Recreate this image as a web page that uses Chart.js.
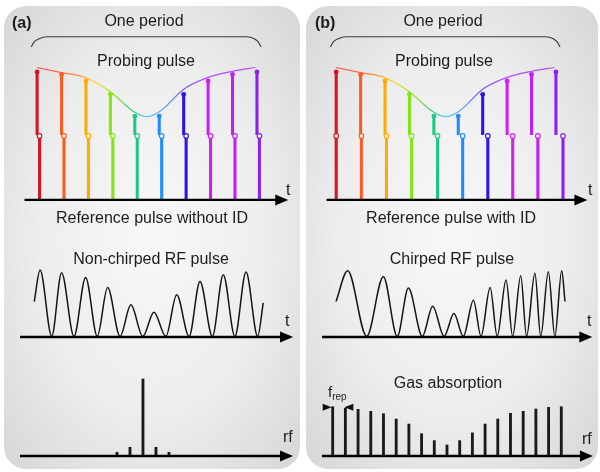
<!DOCTYPE html>
<html>
<head>
<meta charset="utf-8">
<script src="https://cdn.jsdelivr.net/npm/chart.js@4.4.1/dist/chart.umd.min.js"></script>
<style>
body{margin:0;width:600px;height:472px;background:#fff;position:relative;overflow:hidden;font-family:"Liberation Sans",Arial,sans-serif;color:#1c1c1c}
.panel{position:absolute;top:6px;height:463px;border-radius:22px;background:radial-gradient(ellipse farthest-corner at 50% 50%,#f8f8f8 0%,#ededed 55%,#d6d6d6 100%)}
canvas{position:absolute}
.lbl{position:absolute;font-size:16px;line-height:16px;white-space:nowrap}
.c{transform:translateX(-50%)}
.b{font-weight:bold}
sub{font-size:10px;vertical-align:-3px}
</style>
</head>
<body>
<div class="panel" style="left:4px;width:296px"></div>
<div class="panel" style="left:306px;width:292px"></div>

<canvas id="pulseA" width="296" height="225" style="left:4px;top:0"></canvas>
<canvas id="rfA" width="296" height="110" style="left:4px;top:240px"></canvas>
<canvas id="specA" width="296" height="115" style="left:4px;top:355px"></canvas>
<canvas id="pulseB" width="292" height="225" style="left:306px;top:0"></canvas>
<canvas id="rfB" width="292" height="110" style="left:306px;top:240px"></canvas>
<canvas id="specB" width="292" height="115" style="left:306px;top:355px"></canvas>

<div class="lbl b" style="left:12px;top:15px">(a)</div>
<div class="lbl c" style="left:144px;top:13px">One period</div>
<div class="lbl c" style="left:146px;top:53px">Probing pulse</div>
<div class="lbl" style="left:286px;top:182px">t</div>
<div class="lbl c" style="left:152px;top:210px">Reference pulse without ID</div>
<div class="lbl c" style="left:151px;top:251px">Non-chirped RF pulse</div>
<div class="lbl" style="left:285px;top:313px">t</div>
<div class="lbl" style="left:283px;top:429px">rf</div>

<div class="lbl b" style="left:315px;top:15px">(b)</div>
<div class="lbl c" style="left:443px;top:13px">One period</div>
<div class="lbl c" style="left:444px;top:53px">Probing pulse</div>
<div class="lbl" style="left:588px;top:182px">t</div>
<div class="lbl c" style="left:451px;top:210px">Reference pulse with ID</div>
<div class="lbl c" style="left:452px;top:251px">Chirped RF pulse</div>
<div class="lbl" style="left:587px;top:313px">t</div>
<div class="lbl c" style="left:448px;top:375px">Gas absorption</div>
<div class="lbl" style="left:582px;top:431px">rf</div>
<div class="lbl" style="left:328px;top:384px;font-size:15px">f<sub>rep</sub></div>

<script>
// probing pulses (same in both panels)
const probeT = [0, 1, 2, 3, 4, 5, 6, 7, 8, 9];
const probeTop = [2.0, 1.96, 1.86, 1.65, 1.31, 1.31, 1.65, 1.86, 1.96, 2.0];
const probeBase = 1.02;
// reference pulses
const refTA = [0.1, 1.1, 2.1, 3.1, 4.1, 5.1, 6.1, 7.1, 8.1, 9.1];
const refTB = [0, 1.03, 2.06, 3.09, 4.15, 5.18, 6.21, 7.23, 8.26, 9.29];
const refTop = 1.0;
const pulseColors = ['#d4141e', '#ff5a1e', '#ffaa00', '#82e614', '#1ec882', '#1e8cff', '#2814e6', '#d21ef5', '#c31ef0', '#8c1ef0'];

// envelope of the probing pulse
const envT = [0, 1, 2, 3, 3.95, 4.49, 5.02, 6, 7, 8, 8.93];
const envY = [2.07, 1.99, 1.91, 1.69, 1.38, 1.30, 1.38, 1.73, 1.915, 2.01, 2.07];
const envColors = ['#ff4848', '#ff7a3a', '#ffd21e', '#9be21e', '#3cc88c', '#50d2f0', '#5aa0ff', '#7a5aff', '#b450ff', '#b448f0'];
const envStops = [0, 0.15, 0.27, 0.36, 0.44, 0.5, 0.58, 0.66, 0.78, 1];

// "one period" brace
const braceT = [-0.24, -0.12, 0.08, 0.4, 8.58, 8.89, 9.05, 9.17];
const braceY = [2.39, 2.47, 2.52, 2.55, 2.55, 2.52, 2.47, 2.39];

// RF pulses: start, peaks / troughs, end
const rfAT = [0.05, 0.28, 0.74, 1.13, 1.62, 2.08, 2.54, 2.95, 3.44, 3.87, 4.34, 4.78, 5.25, 5.68, 6.17, 6.60, 7.09, 7.52, 7.98, 8.42, 8.88, 9.10];
const rfAY = [0.53, 1.0, 0.01, 0.96, 0.01, 0.89, 0.01, 0.74, 0.01, 0.48, 0.01, 0.37, 0.01, 0.63, 0.01, 0.83, 0.01, 0.93, 0.01, 0.97, 0.01, 0.51];
const rfBT = [0.158, 0.62, 1.37, 2.03, 2.58, 3.02, 3.57, 3.98, 4.43, 4.82, 5.19, 5.59, 5.89, 6.25, 6.53, 6.88, 7.14, 7.46, 7.69, 8.02, 8.25, 8.55, 8.81, 9.08, 9.21];
const rfBY = [0.53, 0.99, 0.01, 0.90, 0.01, 0.73, 0.01, 0.46, 0.01, 0.35, 0.01, 0.55, 0.01, 0.74, 0.01, 0.85, 0.01, 0.915, 0.01, 0.95, 0.01, 0.975, 0.01, 0.99, 0.53];

// rf spectra
const specAN = [-2, -1, 0, 1, 2];
const specAY = [0.048, 0.113, 1.0, 0.113, 0.048];
const specBN = [0, 1, 2, 3, 4, 5, 6, 7, 8, 9, 10, 11, 12, 13, 14, 15, 16, 17, 18];
const specBY = [0.64, 0.62, 0.606, 0.58, 0.55, 0.48, 0.415, 0.29, 0.2, 0.143, 0.2, 0.3, 0.415, 0.48, 0.555, 0.58, 0.61, 0.632, 0.64];

const pts = (xs, ys) => xs.map((x, i) => ({x: x, y: ys[i]}));

// axis with arrow head along y = 0
const arrowAxis = {
  id: 'arrowAxis',
  afterDatasetsDraw(chart, args, opts) {
    const {ctx, scales: {x, y}} = chart;
    const x0 = x.getPixelForValue(opts.from), x1 = x.getPixelForValue(opts.to), y0 = y.getPixelForValue(0);
    ctx.save();
    ctx.strokeStyle = '#000';
    ctx.fillStyle = '#000';
    ctx.lineWidth = 2.4;
    ctx.beginPath(); ctx.moveTo(x0, y0); ctx.lineTo(x1 - 10, y0); ctx.stroke();
    ctx.beginPath(); ctx.moveTo(x1, y0); ctx.lineTo(x1 - 13, y0 - 5.5); ctx.lineTo(x1 - 13, y0 + 5.5); ctx.closePath(); ctx.fill();
    ctx.restore();
  }
};

// f_rep arrow heads pointing at the first two comb lines
const frepMarks = {
  id: 'frepMarks',
  afterDatasetsDraw(chart) {
    const {ctx, scales: {x, y}} = chart;
    const xa = x.getPixelForValue(specBN[0]), xb = x.getPixelForValue(specBN[1]);
    const yy = y.getPixelForValue(specBY[0]) + 0.5;
    ctx.save();
    ctx.fillStyle = '#111';
    ctx.beginPath(); ctx.moveTo(xa - 1, yy); ctx.lineTo(xa - 10, yy - 3.5); ctx.lineTo(xa - 10, yy + 3.5); ctx.closePath(); ctx.fill();
    ctx.beginPath(); ctx.moveTo(xb - 1, yy); ctx.lineTo(xb + 8, yy - 3.5); ctx.lineTo(xb + 8, yy + 3.5); ctx.closePath(); ctx.fill();
    ctx.restore();
  }
};

function makeChart(id, xr, yr, datasets, arrow, extra) {
  return new Chart(document.getElementById(id), {
    type: 'bar',
    data: {datasets: datasets},
    options: {
      responsive: false,
      animation: false,
      events: [],
      layout: {padding: 0},
      plugins: {legend: {display: false}, tooltip: {enabled: false}, arrowAxis: arrow},
      scales: {
        x: {type: 'linear', min: xr[0], max: xr[1], display: false, offset: false},
        y: {type: 'linear', min: yr[0], max: yr[1], display: false}
      }
    },
    plugins: [arrowAxis].concat(extra || [])
  });
}

function envGradient(c) {
  const ch = c.chart;
  if (!ch.chartArea) return envColors[0];
  const xs = ch.scales.x;
  const g = ch.ctx.createLinearGradient(xs.getPixelForValue(envT[0]), 0, xs.getPixelForValue(envT[envT.length - 1]), 0);
  envStops.forEach((s, i) => g.addColorStop(s, envColors[i]));
  return g;
}

function pulseSets(refT) {
  return [
    {type: 'scatter', data: pts(probeT, probeTop), pointRadius: 2.4, pointBackgroundColor: pulseColors, pointBorderWidth: 0, order: 0},
    {type: 'scatter', data: refT.map(t => ({x: t, y: refTop})), pointRadius: 2.3, pointBackgroundColor: '#f4f4f4', pointBorderColor: pulseColors, pointBorderWidth: 1.1, order: 0},
    {type: 'line', data: pts(envT, envY), borderColor: envGradient, borderWidth: 1.2, pointRadius: 0, cubicInterpolationMode: 'monotone', order: 1},
    {type: 'line', data: pts(braceT, braceY), borderColor: '#3a3a3a', borderWidth: 1.1, pointRadius: 0, cubicInterpolationMode: 'monotone', order: 1},
    {data: probeT.map((t, i) => ({x: t, y: [probeBase, probeTop[i]]})), backgroundColor: pulseColors, barThickness: 2.4, grouped: false, borderWidth: 0, order: 2},
    {data: refT.map(t => ({x: t, y: [0, refTop]})), backgroundColor: pulseColors, barThickness: 2.4, grouped: false, borderWidth: 0, order: 2}
  ];
}

function rfSet(ts, ys) {
  return [{type: 'line', data: pts(ts, ys), borderColor: '#151515', borderWidth: 1.5, pointRadius: 0, cubicInterpolationMode: 'monotone'}];
}

function specSet(ns, ys) {
  return [{data: ns.map((n, i) => ({x: n, y: [0, ys[i]]})), backgroundColor: '#1a1a1a', barThickness: 2.2, grouped: false, borderWidth: 0}];
}

makeChart('pulseA', [-1.146, 10.553], [-0.313, 3.045], pulseSets(refTA), {from: -0.514, to: 10.28});
makeChart('pulseB', [-1.028, 10.514], [-0.313, 3.045], pulseSets(refTB), {from: -0.395, to: 10.29});
makeChart('rfA', [-1.146, 10.553], [-0.194, 1.448], rfSet(rfAT, rfAY), {from: -0.514, to: 10.28});
makeChart('rfB', [-1.028, 10.514], [-0.194, 1.448], rfSet(rfBT, rfBY), {from: -0.395, to: 10.29});
makeChart('specA', [-10.69, 12.08], [-0.182, 1.312], specSet(specAN, specAY), {from: -9.46, to: 11.54});
makeChart('specB', [-2.10, 20.89], [-0.182, 1.312], specSet(specBN, specBY), {from: -0.84, to: 20.49}, [frepMarks]);
</script>
</body>
</html>
